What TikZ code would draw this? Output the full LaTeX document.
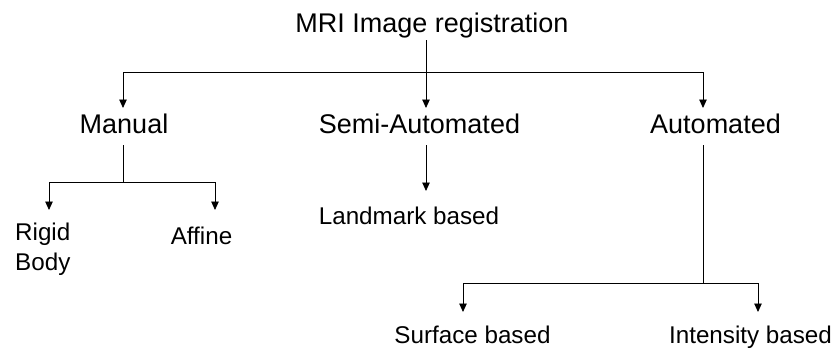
\documentclass[tikz,border=0pt]{standalone}
\usepackage{fontspec}
\setmainfont{Liberation Sans}
\usetikzlibrary{arrows.meta}
\begin{document}
\begin{tikzpicture}[x=1pt,y=-1pt,
  big/.style={font=\fontsize{27}{32}\selectfont, inner sep=0pt, anchor=base},
  small/.style={font=\fontsize{24.2}{30}\selectfont, inner sep=0pt, anchor=base},
  link/.style={line width=0.9pt},
  arr/.style={link,-{Triangle[length=8.5pt,width=7.5pt]}}]
\useasboundingbox[fill=white] (0,0) rectangle (836,349);

% labels
\node[big] (title) at (432,32) {MRI Image registration};
\node[big] (manual) at (124,133) {Manual};
\node[big] (semi) at (419.5,133) {Semi-Automated};
\node[big] (auto) at (715.5,133) {Automated};
\node[small, anchor=base west, align=left] (rigid) at (15,270) {Rigid\\Body};
\node[small] (affine) at (201.5,244) {Affine};
\node[small] (landmark) at (409,224) {Landmark based};
\node[small] (surface) at (472.5,343) {Surface based};
\node[small] (intensity) at (750.5,343) {Intensity based};

% junction points
\coordinate (tStem) at (426,40);
\coordinate (barA) at (426,72);
\coordinate (manIn) at (123,108);
\coordinate (semiIn) at (426,108);
\coordinate (autoIn) at (703,108);

\coordinate (manOut) at (123,145);
\coordinate (barM) at (123,182);
\coordinate (rigidIn) at (49,210);
\coordinate (affineIn) at (215,210);

\coordinate (semiOut) at (426,145);
\coordinate (landIn) at (426,191);

\coordinate (autoOut) at (703,145);
\coordinate (barB) at (703,283);
\coordinate (surfIn) at (463,312);
\coordinate (intIn) at (758,312);

% top level
\draw[arr] (tStem) -- (semiIn);
\draw[link] (manIn |- barA) -- (autoIn |- barA);
\draw[arr] (manIn |- barA) -- (manIn);
\draw[arr] (autoIn |- barA) -- (autoIn);

% manual branch
\draw[link] (manOut) -- (barM);
\draw[link] (rigidIn |- barM) -- (affineIn |- barM);
\draw[arr] (rigidIn |- barM) -- (rigidIn);
\draw[arr] (affineIn |- barM) -- (affineIn);

% semi-automated branch
\draw[arr] (semiOut) -- (landIn);

% automated branch
\draw[link] (autoOut) -- (barB);
\draw[link] (surfIn |- barB) -- (intIn |- barB);
\draw[arr] (surfIn |- barB) -- (surfIn);
\draw[arr] (intIn |- barB) -- (intIn);
\end{tikzpicture}
\end{document}
